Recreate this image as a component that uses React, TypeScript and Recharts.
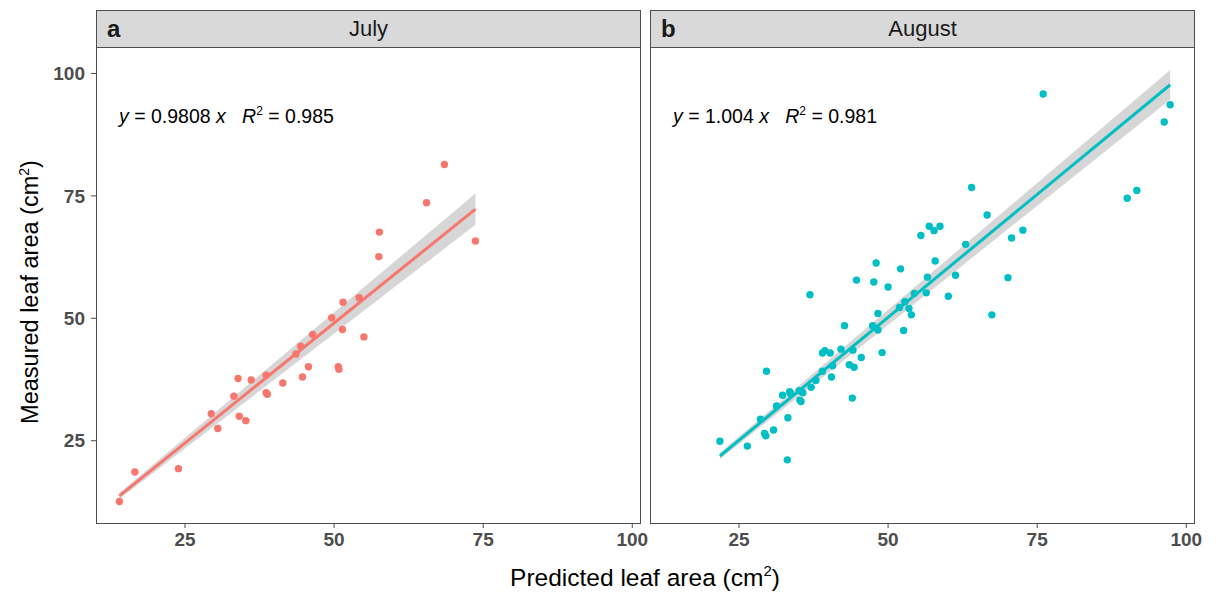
import { Area, ComposedChart, Line, Scatter, XAxis, YAxis } from "recharts";

// values (cm2)
const julyPredicted = [
  68.5, 65.5, 57.6, 57.5, 73.7, 51.5, 54.2, 49.6, 51.4, 55.0, 46.4, 44.4, 43.6, 45.7, 44.7, 50.7,
  50.8, 38.6, 41.4, 36.1, 33.9, 33.2, 38.6, 38.8, 29.4, 30.5, 34.1, 35.2, 16.6, 23.9, 14.0,
];
const julyMeasured = [
  81.4, 73.6, 67.6, 62.6, 65.8, 53.3, 54.2, 50.1, 47.7, 46.2, 46.7, 44.3, 42.7, 40.1, 38.0, 40.1,
  39.6, 38.4, 36.8, 37.4, 37.7, 34.1, 34.8, 34.5, 30.5, 27.5, 30.0, 29.1, 18.6, 19.3, 12.6,
];

const augustPredicted = [
  21.8, 26.4, 33.1, 29.3, 29.5, 30.8, 28.6, 33.2, 31.3, 32.3, 33.5, 33.6, 35.1, 35.7, 35.2, 35.4,
  37.1, 37.9, 39.0, 40.5, 40.7, 29.6, 39.4, 39.0, 40.3, 42.1, 42.7, 43.5, 44.3, 44.0, 44.1, 45.5,
  47.4, 48.3, 48.3, 49.0, 52.6, 51.9, 53.5, 53.9, 52.8, 54.4, 56.4, 56.6, 60.1, 61.3, 67.4, 36.9,
  44.7, 47.6, 50.0, 48.0, 52.1, 57.9, 55.5, 56.9, 57.7, 58.7, 63.0, 64.0, 66.6, 70.7, 72.6, 70.1,
  76.0, 90.1, 91.7, 96.3, 97.3,
];
const augustMeasured = [
  24.9, 23.9, 21.1, 26.5, 26.0, 27.2, 29.4, 29.7, 32.1, 34.3, 35.0, 34.7, 35.2, 34.8, 33.3, 33.0,
  35.9, 37.3, 39.2, 38.0, 40.3, 39.2, 43.4, 42.9, 42.9, 43.7, 48.5, 40.5, 40.0, 33.7, 43.5, 42.0,
  48.5, 47.6, 51.0, 43.0, 47.5, 52.2, 52.0, 50.7, 53.4, 55.1, 55.2, 58.4, 54.5, 58.8, 50.7, 54.8,
  57.8, 57.4, 56.4, 61.3, 60.1, 61.7, 66.9, 68.8, 67.9, 68.8, 65.1, 76.7, 71.1, 66.4, 68.0, 58.3,
  95.8, 74.5, 76.1, 90.1, 93.6,
];

// fitted slope (through origin) and half width of the 95% band on the slope
const julySlope = 0.9808;
const julyBand = 0.0434;
const augustSlope = 1.004;
const augustBand = 0.031;

const xTicks = [25, 50, 75, 100];
const yTicks = [25, 50, 75, 100];

const RED = "#F8766D";
const TEAL = "#00BFC4";
const TEXT = "#4d4d4d";
const FONT = "'Liberation Sans', Arial, sans-serif";

function makeFit(xs: number[], slope: number, band: number) {
  const lo = Math.min(...xs);
  const hi = Math.max(...xs);
  return [lo, hi].map((x) => ({
    x,
    fit: slope * x,
    band: [x * (slope - band), x * (slope + band)],
  }));
}

interface PanelProps {
  predicted: number[];
  measured: number[];
  slope: number;
  band: number;
  color: string;
  left: number;
  tag: string;
  month: string;
  eqSlope: string;
  r2: string;
  showY: boolean;
}

function Panel({ predicted, measured, slope, band, color, left, tag, month, eqSlope, r2, showY }: PanelProps) {
  const points = predicted.map((x, i) => ({ x, y: measured[i] }));
  const fitData = makeFit(predicted, slope, band);
  const plotLeft = showY ? 96 : 0;
  const width = plotLeft + 545 + 15;
  const tickStyle = { fill: TEXT, fontSize: 19, fontWeight: 700, fontFamily: FONT };

  return (
    <div style={{ position: "absolute", left: left - plotLeft, top: 0 }}>
      <ComposedChart
        width={width}
        height={560}
        data={fitData}
        margin={{ top: 47, right: 15, bottom: 0, left: 0 }}
      >
        <XAxis
          type="number"
          dataKey="x"
          domain={[10.08, 101.46]}
          ticks={xTicks}
          allowDataOverflow
          height={37}
          axisLine={false}
          tickSize={5}
          tickMargin={5}
          tickLine={{ stroke: TEXT }}
          tick={tickStyle}
        />
        <YAxis
          type="number"
          domain={[8.2, 105.4]}
          ticks={yTicks}
          allowDataOverflow
          hide={!showY}
          width={96}
          axisLine={false}
          tickSize={5}
          tickMargin={6}
          tickLine={{ stroke: TEXT }}
          tick={tickStyle}
        />
        <Scatter
          data={points}
          dataKey="y"
          isAnimationActive={false}
          shape={(p: any) => <circle cx={p.cx} cy={p.cy} r={3.7} fill={color} />}
        />
        <Area
          dataKey="band"
          type="linear"
          stroke="none"
          fill="#999999"
          fillOpacity={0.4}
          isAnimationActive={false}
        />
        <Line
          dataKey="fit"
          type="linear"
          stroke={color}
          strokeWidth={3}
          dot={false}
          isAnimationActive={false}
        />
      </ComposedChart>
      {/* panel border */}
      <div
        style={{
          position: "absolute",
          left: plotLeft,
          top: 47,
          width: 545,
          height: 477,
          border: "1px solid #4d4d4d",
          boxSizing: "border-box",
          pointerEvents: "none",
        }}
      />
      {/* strip */}
      <div
        style={{
          position: "absolute",
          left: plotLeft,
          top: 10,
          width: 545,
          height: 38,
          background: "#d9d9d9",
          border: "1px solid #4d4d4d",
          boxSizing: "border-box",
          fontFamily: FONT,
          color: "#1a1a1a",
        }}
      >
        <span style={{ position: "absolute", left: 10, top: 4, fontSize: 24, fontWeight: 700 }}>{tag}</span>
        <div style={{ textAlign: "center", fontSize: 22, lineHeight: "36px" }}>{month}</div>
      </div>
      {/* equation */}
      <div
        style={{
          position: "absolute",
          left: plotLeft + 23,
          top: 104,
          fontFamily: FONT,
          fontSize: 19.5,
          color: "#000",
          whiteSpace: "pre",
        }}
      >
        <i>y</i> = {eqSlope} <i>x</i>{"   "}
        <i>R</i>
        <sup style={{ fontSize: 12 }}>2</sup> = {r2}
      </div>
    </div>
  );
}

export default function App() {
  return (
    <div
      style={{
        position: "absolute",
        left: 0,
        top: 0,
        width: 1216,
        height: 595,
        background: "#fff",
        fontFamily: FONT,
      }}
    >
      <Panel
        predicted={julyPredicted}
        measured={julyMeasured}
        slope={julySlope}
        band={julyBand}
        color={RED}
        left={96}
        tag="a"
        month="July"
        eqSlope="0.9808"
        r2="0.985"
        showY
      />
      <Panel
        predicted={augustPredicted}
        measured={augustMeasured}
        slope={augustSlope}
        band={augustBand}
        color={TEAL}
        left={650}
        tag="b"
        month="August"
        eqSlope="1.004"
        r2="0.981"
        showY={false}
      />
      <div
        style={{
          position: "absolute",
          left: 30,
          top: 292,
          transform: "translate(-50%, -50%) rotate(-90deg)",
          whiteSpace: "nowrap",
          fontSize: 23.5,
          color: "#000",
        }}
      >
        Measured leaf area (cm<sup style={{ fontSize: 14 }}>2</sup>)
      </div>
      <div
        style={{
          position: "absolute",
          left: 645,
          top: 577,
          transform: "translate(-50%, -50%)",
          whiteSpace: "nowrap",
          fontSize: 24.5,
          color: "#000",
        }}
      >
        Predicted leaf area (cm<sup style={{ fontSize: 15 }}>2</sup>)
      </div>
    </div>
  );
}
